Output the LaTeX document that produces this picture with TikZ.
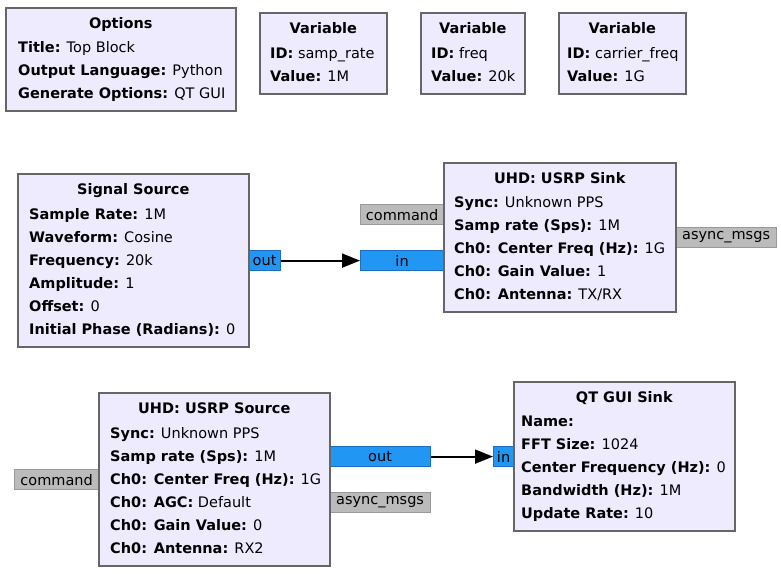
\documentclass[tikz,border=0pt]{standalone}
\usepackage{fontspec}
\setmainfont{DejaVu Sans}
\usetikzlibrary{arrows.meta,positioning}
\definecolor{blockfill}{HTML}{EFEBFE}
\definecolor{blockline}{HTML}{666666}
\definecolor{streamfill}{HTML}{2196F3}
\definecolor{streamline}{HTML}{1A6FC4}
\definecolor{msgfill}{HTML}{BBBBBB}
\definecolor{msgline}{HTML}{999999}

\begin{document}
\begin{tikzpicture}[
    x=1pt, y=-1pt,
    font=\fontsize{14.5}{23}\selectfont,
    block/.style={draw=blockline, fill=blockfill, line width=1.6pt, anchor=north west,
        inner sep=0pt},
    title/.style={anchor=base, inner sep=0pt, font=\fontsize{14.5}{23}\selectfont\bfseries},
    body/.style={anchor=base west, inner sep=0pt, align=left},
    port/.style={line width=1.2pt, anchor=north west, minimum height=20pt,
        inner sep=0pt, font=\fontsize{14.5}{16}\selectfont},
    stream/.style={port, draw=streamline, fill=streamfill},
    msg/.style={port, draw=msgline, fill=msgfill},
    wire/.style={-{Triangle[length=18pt,width=14pt]}, line width=1.8pt}
]
    \useasboundingbox (0,0) rectangle (781,573);

    % top row: options and variables
    \node[block, minimum width=230pt, minimum height=103pt] (opts) at (5,7) {};
    \node[title] (opts-t) at ([yshift=-21pt]opts.north) {Options};
    \node[body] (opts-b) at ([xshift=13pt,yshift=13pt]opts.south west)
        {\textbf{Title:} Top Block\\\textbf{Output Language:} Python\\
         \textbf{Generate Options:} QT GUI};

    \node[block, minimum width=127pt, minimum height=81pt] (samprate) at (259,12) {};
    \node[title] (samprate-t) at ([yshift=-21pt]samprate.north) {Variable};
    \node[body] (samprate-b) at ([xshift=11pt,yshift=13pt]samprate.south west)
        {\textbf{ID:} samp\_rate\\\textbf{Value:} 1M};

    \node[block, minimum width=104pt, minimum height=81pt] (freq) at (420,12) {};
    \node[title] (freq-t) at ([yshift=-21pt]freq.north) {Variable};
    \node[body] (freq-b) at ([xshift=11pt,yshift=13pt]freq.south west)
        {\textbf{ID:} freq\\\textbf{Value:} 20k};

    \node[block, minimum width=127pt, minimum height=81pt] (carrier) at (558,12) {};
    \node[title] (carrier-t) at ([yshift=-21pt]carrier.north) {Variable};
    \node[body] (carrier-b) at ([xshift=9pt,yshift=13pt]carrier.south west)
        {\textbf{ID:} carrier\_freq\\\textbf{Value:} 1G};

    % transmit chain
    \node[stream, minimum width=32pt] (sigout) at (248,250) {out};
    \node[msg, minimum width=83pt] (sinkcmd) at (360,204) {command};
    \node[stream, minimum width=83pt] (sinkin) at (360,250) {in};
    \node[msg, minimum width=101pt] (sinkmsg) at (675,227) {async\_msgs};

    \node[block, minimum width=231pt, minimum height=173pt] (sigsrc) at (17,173) {};
    \node[title] (sigsrc-t) at ([yshift=-21pt]sigsrc.north) {Signal Source};
    \node[body] (sigsrc-b) at ([xshift=12pt,yshift=13pt]sigsrc.south west)
        {\textbf{Sample Rate:} 1M\\\textbf{Waveform:} Cosine\\\textbf{Frequency:} 20k\\
         \textbf{Amplitude:} 1\\\textbf{Offset:} 0\\\textbf{Initial Phase (Radians):} 0};

    \node[block, minimum width=232pt, minimum height=149pt] (usrpsink) at (443,162) {};
    \node[title] (usrpsink-t) at ([yshift=-21pt]usrpsink.north) {UHD: USRP Sink};
    \node[body] (usrpsink-b) at ([xshift=11pt,yshift=13pt]usrpsink.south west)
        {\textbf{Sync:} Unknown PPS\\\textbf{Samp rate (Sps):} 1M\\
         \textbf{Ch0: Center Freq (Hz):} 1G\\\textbf{Ch0: Gain Value:} 1\\
         \textbf{Ch0: Antenna:} TX/RX};

    % receive chain
    \node[msg, minimum width=84pt] (srccmd) at (14,469) {command};
    \node[stream, minimum width=101pt] (srcout) at (329,446) {out};
    \node[msg, minimum width=101pt] (srcmsg) at (329,492) {async\_msgs};
    \node[stream, minimum width=20pt] (qtin) at (493,446) {in};

    \node[block, minimum width=231pt, minimum height=173pt] (usrpsrc) at (98,392) {};
    \node[title] (usrpsrc-t) at ([yshift=-21pt]usrpsrc.north) {UHD: USRP Source};
    \node[body] (usrpsrc-b) at ([xshift=12pt,yshift=13pt]usrpsrc.south west)
        {\textbf{Sync:} Unknown PPS\\\textbf{Samp rate (Sps):} 1M\\
         \textbf{Ch0: Center Freq (Hz):} 1G\\\textbf{Ch0: AGC:} Default\\
         \textbf{Ch0: Gain Value:} 0\\\textbf{Ch0: Antenna:} RX2};

    \node[block, minimum width=221pt, minimum height=149pt] (qtsink) at (513,381) {};
    \node[title] (qtsink-t) at ([yshift=-21pt]qtsink.north) {QT GUI Sink};
    \node[body] (qtsink-b) at ([xshift=8pt,yshift=13pt]qtsink.south west)
        {\textbf{Name:}\\\textbf{FFT Size:} 1024\\\textbf{Center Frequency (Hz):} 0\\
         \textbf{Bandwidth (Hz):} 1M\\\textbf{Update Rate:} 10};

    \path[wire]
        (sigout) edge (sinkin)
        (srcout) edge (qtin);
\end{tikzpicture}
\end{document}
